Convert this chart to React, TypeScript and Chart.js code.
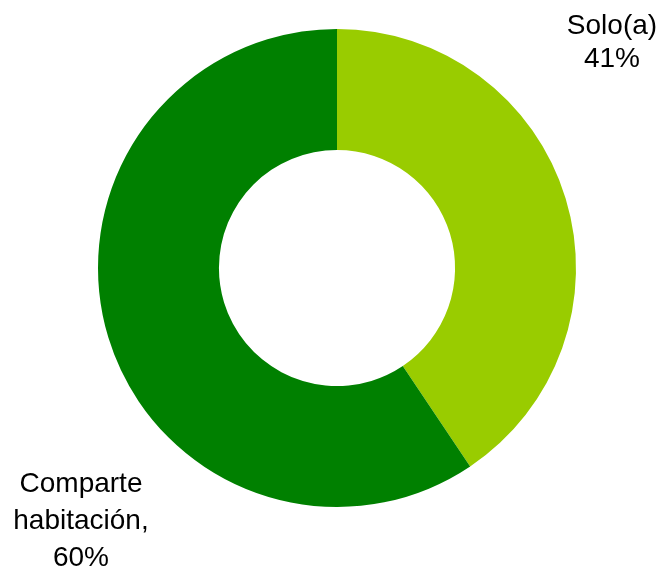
import React, { useEffect, useRef } from "react";
import { Chart, registerables } from "chart.js";

Chart.register(...registerables);

const categories = ["Solo(a)", "Comparte habitación"];
const values = [41, 60];
const labelLines = [
  ["Solo(a)", "41%"],
  ["Comparte", "habitación,", "60%"],
];
const colors = ["#99CC00", "#008000"];

const labelPlugin = {
  id: "sliceLabels",
  afterDraw(chart: any) {
    const ctx = chart.ctx;
    ctx.save();
    ctx.fillStyle = "#000000";
    ctx.font = "28px 'Liberation Sans', Arial, sans-serif";
    ctx.textAlign = "center";
    ctx.textBaseline = "alphabetic";
    const placements = [
      { x: 612, ys: [34, 67] },
      { x: 81, ys: [492, 529, 566] },
    ];
    labelLines.forEach((lines, i) => {
      const p = placements[i];
      lines.forEach((t, j) => ctx.fillText(t, p.x, p.ys[j]));
    });
    ctx.restore();
  },
};

export default function App() {
  const ref = useRef<HTMLCanvasElement>(null);
  useEffect(() => {
    document.body.style.margin = "0";
    const chart = new Chart(ref.current!, {
      type: "doughnut",
      data: {
        labels: categories,
        datasets: [
          {
            data: values,
            backgroundColor: colors,
            borderWidth: 0,
          },
        ],
      },
      options: {
        animation: false,
        responsive: false,
        maintainAspectRatio: false,
        cutout: "49.4%",
        layout: { padding: { left: 98, right: 86, top: 29, bottom: 63 } },
        plugins: {
          legend: { display: false },
          tooltip: { enabled: false },
        },
      },
      plugins: [labelPlugin],
    });
    return () => chart.destroy();
  }, []);
  return (
    <div style={{ width: 662, height: 570, background: "#fff" }}>
      <canvas ref={ref} width={662} height={570} style={{ display: "block" }} />
    </div>
  );
}
